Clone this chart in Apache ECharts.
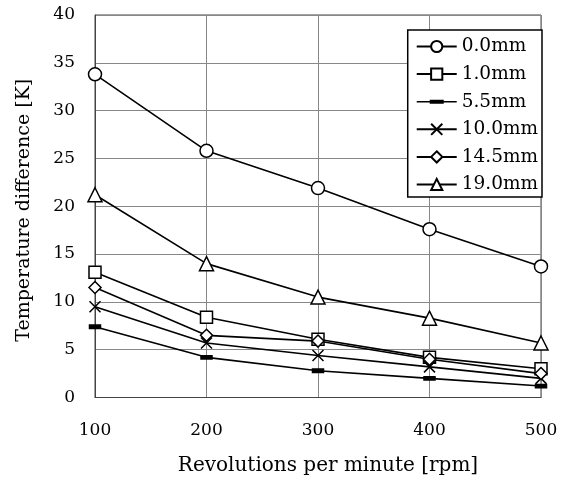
<!DOCTYPE html>
<html>
<head>
<meta charset="utf-8">
<script src="https://cdn.jsdelivr.net/npm/echarts@6/dist/echarts.min.js"></script>
<style>html,body{margin:0;padding:0;background:#fff}#c{width:566px;height:484px}</style>
</head>
<body>
<div id="c"></div>
<script>
const rpm = [100, 200, 300, 400, 500];
const names = ['0.0mm', '1.0mm', '5.5mm', '10.0mm', '14.5mm', '19.0mm'];
const d00 = [33.8, 25.8, 21.9, 17.6, 13.7];
const d10 = [13.1, 8.4, 6.1, 4.2, 3.0];
const d55 = [7.4, 4.2, 2.8, 2.0, 1.2];
const d100 = [9.5, 5.7, 4.4, 3.2, 2.0];
const d145 = [11.5, 6.5, 5.9, 4.0, 2.5];
const d190 = [21.2, 14.0, 10.5, 8.3, 5.7];
const yTicks = [0, 5, 10, 15, 20, 25, 30, 35, 40];

const seriesData = [d00, d10, d55, d100, d145, d190];
const symbols = ['circle', 'rect', 'path://M0,0h10v3h-10z', 'path://M0,0L10,10M10,0L0,10', 'diamond', 'triangle'];
const sizes = [13, 12, 11, 11, 12, 14];
const FONT = 'DejaVu Serif';
const barIcon = 'path://M0,0L0,0ZM0,6.2H40V7.8H0ZM13,5H27V9H13ZM40,14L40,14Z';

const chart = echarts.init(document.getElementById('c'), null, {renderer: 'canvas'});
chart.setOption({
  animation: false,
  backgroundColor: '#fff',
  grid: {left: 95, right: 25, top: 15, bottom: 86.5, show: true, borderColor: '#444', borderWidth: 1},
  legend: {
    orient: 'vertical',
    right: 24, top: 30,
    data: names.map(n => n === '5.5mm'
      ? {name: n, icon: barIcon, itemStyle: {color: '#000', borderWidth: 0}}
      : n),
    itemWidth: 40, itemHeight: 14, itemGap: 8.6,
    backgroundColor: '#fff',
    borderColor: '#000', borderWidth: 1.5,
    padding: [7, 4, 3, 8],
    textStyle: {fontFamily: FONT, fontSize: 18.5, color: '#000'}
  },
  xAxis: {
    type: 'value', min: 100, max: 500, interval: 100,
    name: 'Revolutions per minute [rpm]', nameLocation: 'middle', nameGap: 58,
    nameTextStyle: {fontFamily: FONT, fontSize: 20, color: '#000', padding: [0, 0, 0, 20]},
    axisLine: {show: true, lineStyle: {color: '#444', width: 1}},
    axisTick: {show: false},
    axisLabel: {fontFamily: FONT, fontSize: 17, color: '#000', margin: 25},
    splitLine: {show: true, lineStyle: {color: '#888', width: 1}}
  },
  yAxis: {
    type: 'value', min: yTicks[0], max: yTicks[yTicks.length - 1], interval: 5,
    name: 'Temperature difference [K]', nameLocation: 'middle', nameGap: 61,
    nameTextStyle: {fontFamily: FONT, fontSize: 19, color: '#000', padding: [0, 8, 0, 0]},
    axisLine: {show: true, lineStyle: {color: '#444', width: 1}},
    axisTick: {show: false},
    axisLabel: {fontFamily: FONT, fontSize: 17, color: '#000', margin: 20},
    splitLine: {show: true, lineStyle: {color: '#888', width: 1}}
  },
  series: names.map((n, i) => ({
    name: n,
    type: 'line',
    data: rpm.map((x, j) => [x, seriesData[i][j]]),
    symbol: symbols[i],
    symbolSize: sizes[i],
    symbolKeepAspect: true,
    showAllSymbol: true,
    lineStyle: {color: '#000', width: 1.6},
    itemStyle: {color: i === 2 ? '#000' : '#fff', borderColor: '#000', borderWidth: 1.5},
    z: 3
  }))
});
</script>
</body>
</html>
